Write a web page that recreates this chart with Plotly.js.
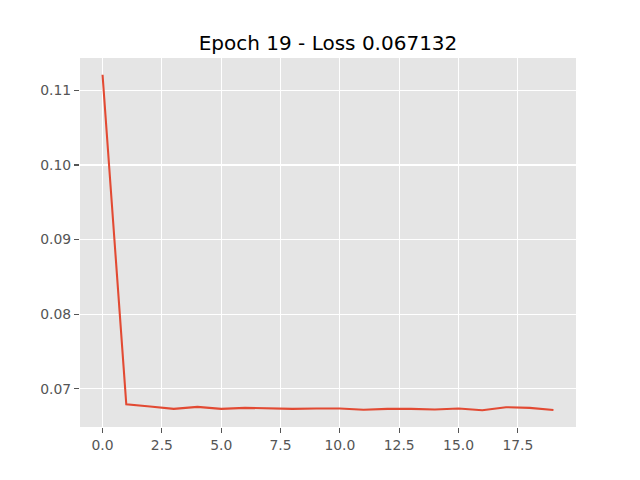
<!DOCTYPE html>
<html>
<head>
<meta charset="utf-8">
<script src="https://cdn.plot.ly/plotly-3.0.1.min.js"></script>
<style>html,body{margin:0;padding:0;background:#fff;}#chart{width:640px;height:480px;}</style>
</head>
<body>
<div id="chart"></div>
<script>
const epochs = [0,1,2,3,4,5,6,7,8,9,10,11,12,13,14,15,16,17,18,19];
const losses = [0.1121,0.06791,0.0676,0.06729,0.06756,0.06729,0.06742,0.06733,0.06729,0.06733,0.06733,0.06716,0.06729,0.06729,0.0672,0.06733,0.06711,0.06751,0.06742,0.067132];
const xTicks = [0,2.5,5,7.5,10,12.5,15,17.5];
const yTicks = [0.07,0.08,0.09,0.10,0.11];
const titleText = "Epoch 19 - Loss 0.067132";

const axisCommon = {
  showgrid: true, gridcolor: '#ffffff', gridwidth: 1.1,
  zeroline: false, showline: false,
  ticks: 'outside', ticklen: 5, tickwidth: 1.1, tickcolor: '#555555',
  tickfont: {family: 'DejaVu Sans', size: 13.9, color: '#555555'},
  layer: 'below traces'
};

Plotly.newPlot('chart', [{
  x: epochs, y: losses, type: 'scatter', mode: 'lines',
  line: {color: '#E24A33', width: 2.08}
}], {
  width: 640, height: 480,
  margin: {l: 80, r: 64, t: 57.6, b: 52.8},
  paper_bgcolor: '#ffffff', plot_bgcolor: '#E5E5E5',
  showlegend: false,
  title: {text: titleText, font: {family: 'DejaVu Sans', size: 20, color: '#000000'},
          x: 0.5, xref: 'paper', xanchor: 'center', y: 1, yref: 'paper', yanchor: 'bottom', pad: {b: 8}},
  xaxis: Object.assign({}, axisCommon, {range: [-0.95, 19.95], tickvals: xTicks, ticktext: xTicks.map(v => v.toFixed(1))}),
  yaxis: Object.assign({}, axisCommon, {range: [0.064856, 0.114354], tickvals: yTicks, ticktext: yTicks.map(v => v.toFixed(2))})
}, {staticPlot: true});
</script>
</body>
</html>
